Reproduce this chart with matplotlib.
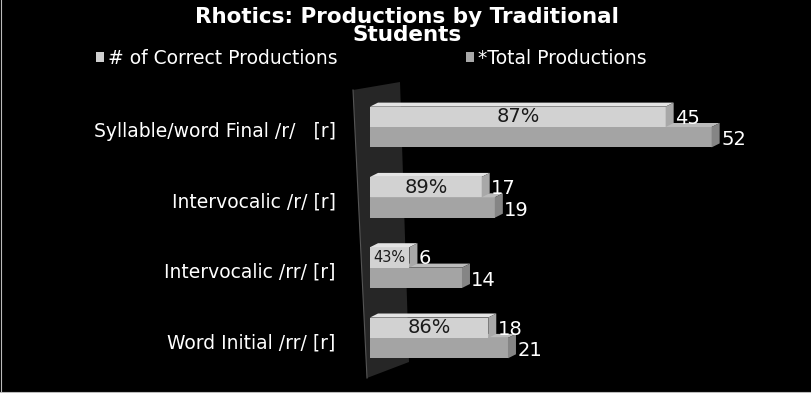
import matplotlib
matplotlib.use("Agg")
import matplotlib.pyplot as plt
from matplotlib.patches import Polygon, Patch
from matplotlib.lines import Line2D

categorias = ["Syllable/word Final /r/   [r]", "Intervocalic /r/ [r]",
              "Intervocalic /rr/ [r]", "Word Initial /rr/ [r]"]
corretas = [45, 17, 6, 18]
totais = [52, 19, 14, 21]
series = ["# of Correct Productions", "*Total Productions"]
cores_serie = ["#cfcfcf", "#a8a8a8"]

W, H = 812, 393
fig = plt.figure(figsize=(W / 100, H / 100), dpi=100, facecolor="black")

# eixo em pixels: zero em x=370, 6.57 px por unidade; grupos a cada 70.3 px
ax = fig.add_axes([340 / W, 1 - 380 / H, 472 / W, 300 / H])
ax.set_facecolor("black")
ax.set_xlim(-30 / 6.57, 442 / 6.57)
ax.set_ylim((380 - 127) / 70.3, (80 - 127) / 70.3)
for s in ax.spines.values():
    s.set_visible(False)
ax.set_xticks([])

# parede de fundo (vertical, em perspectiva), atras das barras
parede = [(353, 90), (400, 82), (409, 362), (367, 378)]
ax.add_patch(Polygon([(x / W, 1 - y / H) for x, y in parede], closed=True,
                     transform=fig.transFigure, facecolor="#262626",
                     edgecolor="none", zorder=1, clip_on=False))
ax.add_line(Line2D([353 / W, 367 / W], [1 - 90 / H, 1 - 378 / H],
                   transform=fig.transFigure, color="#555555", lw=0.8,
                   zorder=1, clip_on=False))

h = 0.29
dx = 8 / 6.57
dy = -4 / 70.3
pos = list(range(len(categorias)))


def barra_3d(y, v, frente, topo, lado, z):
    ax.barh(y, v, height=h, color=frente, zorder=z)
    t = y - h / 2
    b = y + h / 2
    ax.add_patch(Polygon([(0, t), (v, t), (v + dx, t + dy), (dx, t + dy)],
                         closed=True, facecolor=topo, edgecolor="none", zorder=z))
    ax.add_patch(Polygon([(v, t), (v + dx, t + dy), (v + dx, b + dy), (v, b)],
                         closed=True, facecolor=lado, edgecolor="none", zorder=z))


for i in pos:
    yc = i - h / 2
    yt = i + h / 2
    barra_3d(yt, totais[i], "#a4a4a4", "#bcbcbc", "#858585", 2)
    barra_3d(yc, corretas[i], "#d2d2d2", "#e4e4e4", "#a8a8a8", 3)

    pct = round(corretas[i] / totais[i] * 100)
    fs = 14 if corretas[i] > 10 else 10.5
    ax.text(corretas[i] / 2, yc, f"{pct}%", ha="center", va="center",
            fontsize=fs, color="#1a1a1a", zorder=5)

    ax.annotate(str(corretas[i]), (corretas[i] + dx, yc), xytext=(1, -1),
                textcoords="offset points", ha="left", va="center",
                fontsize=14, color="white", zorder=5)
    ax.annotate(str(totais[i]), (totais[i] + dx, yt), xytext=(1, -2),
                textcoords="offset points", ha="left", va="center",
                fontsize=14, color="white", zorder=5)

ax.set_yticks([p + 0.04 for p in pos])
ax.set_yticklabels(categorias, fontsize=13.5, color="white")
ax.tick_params(axis="y", length=0, pad=3)

fig.text(407 / W, 1 - 26 / H, "Rhotics: Productions by Traditional\nStudents",
         ha="center", va="center", fontsize=15.5, fontweight="bold",
         color="white", linespacing=0.9)

# uma legenda por serie, cada uma na sua posicao
for nome, cor, x0 in zip(series, cores_serie, [96, 466]):
    fig.legend([Patch(facecolor=cor)], [nome], loc="center left",
               bbox_to_anchor=(x0 / W, 1 - 58 / H), frameon=False,
               fontsize=13.5, labelcolor="white", handlelength=0.45,
               handleheight=0.45, handletextpad=0.2, borderaxespad=0,
               borderpad=0)

fig.add_artist(Line2D([0.5 / W, 0.5 / W], [0, 1], color="#bbbbbb", lw=0.8))
fig.add_artist(Line2D([0, 1], [1.2 / H, 1.2 / H], color="#bbbbbb", lw=0.8))

fig.savefig("out.png", dpi=100, facecolor="black")
